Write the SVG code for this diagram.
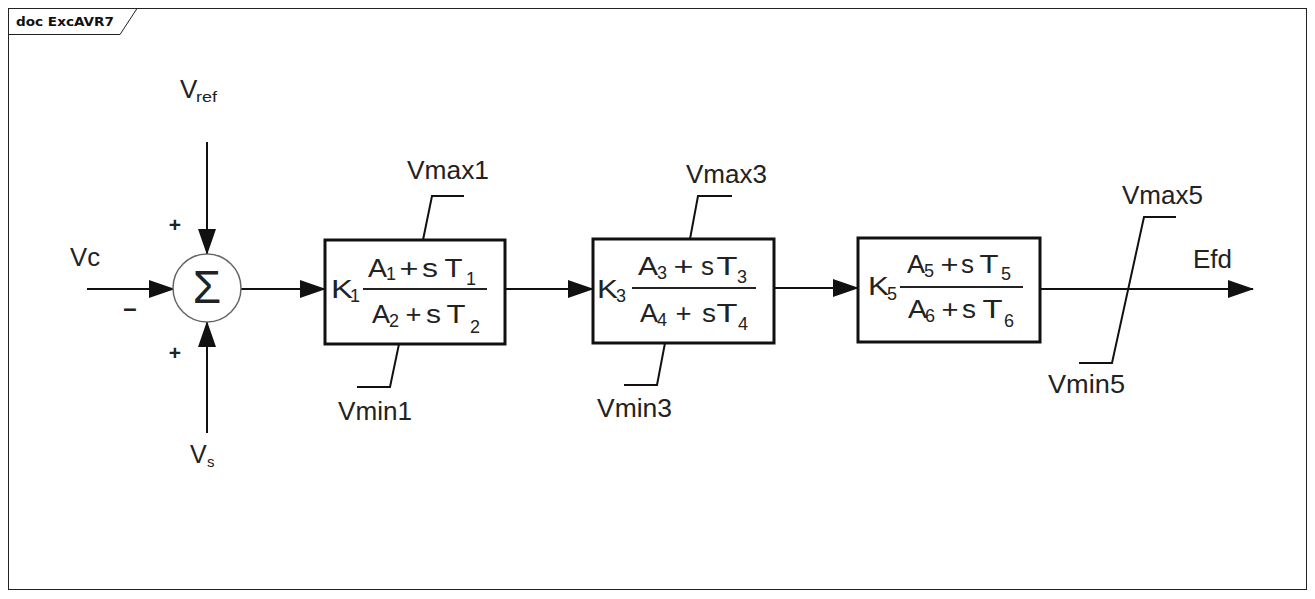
<svg xmlns="http://www.w3.org/2000/svg" width="1315" height="599" viewBox="0 0 1315 599">
<style>
  .t { font-family: "Liberation Sans", Arial, sans-serif; fill: #222; }
  .big { font-size: 26px; }
  .sub { font-size: 18px; }
  .lbl { font-size: 25px; }
  .sgn { font-family: "Liberation Sans", Arial, sans-serif; font-weight: bold; fill: #222; text-anchor: middle; }
  .box { fill: #fff; stroke: #111; stroke-width: 3; }
  .ln { fill: none; stroke: #111; stroke-width: 2; }
  .frac { stroke: #222; stroke-width: 2; }
</style>
<defs>
  <marker id="ah" markerUnits="userSpaceOnUse" markerWidth="27" markerHeight="20" refX="25" refY="10" orient="auto">
    <path d="M0,1 L26,10 L0,19 z" fill="#111"/>
  </marker>
</defs>
<rect width="1315" height="599" fill="#fff"/>
<g id="frame">
  <rect x="8.5" y="8.5" width="1298" height="581" fill="none" stroke="#222" stroke-width="1"/>
  <path d="M8.5,34.5 L120,34.5 L137,8.5" fill="none" stroke="#222" stroke-width="1"/>
  <text x="16" y="26" font-family="DejaVu Sans, sans-serif" font-weight="bold" font-size="12.5" textLength="98" lengthAdjust="spacingAndGlyphs" fill="#111">doc ExcAVR7</text>
</g>
<g id="connectors">
  <line class="ln" x1="87" y1="289" x2="174" y2="289" marker-end="url(#ah)"/>
  <line class="ln" x1="207" y1="142" x2="207" y2="254" marker-end="url(#ah)"/>
  <line class="ln" x1="207" y1="433" x2="207" y2="322" marker-end="url(#ah)"/>
  <line class="ln" x1="241" y1="289" x2="325" y2="289" marker-end="url(#ah)"/>
  <line class="ln" x1="505" y1="289" x2="593" y2="289" marker-end="url(#ah)"/>
  <line class="ln" x1="774" y1="288" x2="858" y2="288" marker-end="url(#ah)"/>
  <line class="ln" x1="1040" y1="289" x2="1253" y2="289" marker-end="url(#ah)"/>
</g>
<g id="inputs">
  <text class="t lbl" x="70" y="266" textLength="30" lengthAdjust="spacingAndGlyphs">Vc</text>
  <text class="t" x="180" y="98" font-size="26">V</text>
  <text class="t" x="196" y="102" font-size="15" textLength="21" lengthAdjust="spacingAndGlyphs">ref</text>
  <text class="t" x="190" y="463" font-size="25">V</text>
  <text class="t" x="207" y="467" font-size="15">s</text>
</g>
<g id="sum">
  <circle cx="207" cy="288" r="34" fill="#fff" stroke="#666" stroke-width="1.5"/>
  <text class="t" x="207" y="303" font-size="46" text-anchor="middle">Σ</text>
  <text class="sgn" x="175" y="232" font-size="21">+</text>
  <text class="sgn" x="175" y="360" font-size="21">+</text>
  <text class="sgn" x="130" y="316" font-size="24">–</text>
</g>
<g id="block1">
  <rect class="box" x="325" y="240" width="180" height="104"/>
  <text class="t big" x="331" y="298" textLength="22" lengthAdjust="spacingAndGlyphs">K</text><text class="t sub" x="350" y="302">1</text>
  <text class="t big" x="368" y="277" textLength="19" lengthAdjust="spacingAndGlyphs">A</text><text class="t sub" x="386" y="280">1</text>
  <text class="t big" x="399.5" y="277" textLength="19" lengthAdjust="spacingAndGlyphs">+</text>
  <text class="t big" x="422" y="277" textLength="16" lengthAdjust="spacingAndGlyphs">s</text>
  <text class="t big" x="444.5" y="277" textLength="18" lengthAdjust="spacingAndGlyphs">T</text><text class="t sub" x="466" y="285">1</text>
  <line class="frac" x1="363" y1="289" x2="487" y2="289"/>
  <text class="t big" x="372" y="323" textLength="18" lengthAdjust="spacingAndGlyphs">A</text><text class="t sub" x="389" y="327">2</text>
  <text class="t big" x="405.5" y="323" textLength="16" lengthAdjust="spacingAndGlyphs">+</text>
  <text class="t big" x="426" y="323" textLength="15" lengthAdjust="spacingAndGlyphs">s</text>
  <text class="t big" x="446.5" y="323" textLength="19" lengthAdjust="spacingAndGlyphs">T</text><text class="t sub" x="470" y="333">2</text>
</g>
<g id="limit1">
  <path class="ln" d="M423,240 L432,196 L464,196"/>
  <path class="ln" d="M399,344 L390,387 L357,387"/>
  <text class="t lbl" x="407" y="179" textLength="82" lengthAdjust="spacingAndGlyphs">Vmax1</text>
  <text class="t lbl" x="338" y="420" textLength="74" lengthAdjust="spacingAndGlyphs">Vmin1</text>
</g>
<g id="block2">
  <rect class="box" x="593" y="239" width="181" height="104"/>
  <text class="t big" x="597" y="298" textLength="21" lengthAdjust="spacingAndGlyphs">K</text><text class="t sub" x="616" y="302">3</text>
  <text class="t big" x="638" y="275" textLength="20" lengthAdjust="spacingAndGlyphs">A</text><text class="t sub" x="657" y="279">3</text>
  <text class="t big" x="673.5" y="275" textLength="20" lengthAdjust="spacingAndGlyphs">+</text>
  <text class="t big" x="701" y="275" textLength="13" lengthAdjust="spacingAndGlyphs">s</text>
  <text class="t big" x="716.5" y="275" textLength="21" lengthAdjust="spacingAndGlyphs">T</text><text class="t sub" x="737" y="283">3</text>
  <line class="frac" x1="632" y1="288" x2="756" y2="288"/>
  <text class="t big" x="640" y="322" textLength="18" lengthAdjust="spacingAndGlyphs">A</text><text class="t sub" x="657" y="326">4</text>
  <text class="t big" x="675.5" y="322" textLength="16" lengthAdjust="spacingAndGlyphs">+</text>
  <text class="t big" x="702" y="322" textLength="14" lengthAdjust="spacingAndGlyphs">s</text>
  <text class="t big" x="716.5" y="322" textLength="21" lengthAdjust="spacingAndGlyphs">T</text><text class="t sub" x="738" y="330">4</text>
</g>
<g id="limit3">
  <path class="ln" d="M690,239 L698,196 L732,196"/>
  <path class="ln" d="M665,343 L657,385 L624,385"/>
  <text class="t lbl" x="686" y="183" textLength="81" lengthAdjust="spacingAndGlyphs">Vmax3</text>
  <text class="t lbl" x="597" y="417" textLength="75" lengthAdjust="spacingAndGlyphs">Vmin3</text>
</g>
<g id="block3">
  <rect class="box" x="858" y="238" width="182" height="104"/>
  <text class="t big" x="868" y="295" textLength="21" lengthAdjust="spacingAndGlyphs">K</text><text class="t sub" x="887" y="300">5</text>
  <text class="t big" x="907" y="273" textLength="18" lengthAdjust="spacingAndGlyphs">A</text><text class="t sub" x="924" y="277">5</text>
  <text class="t big" x="940.5" y="273" textLength="18" lengthAdjust="spacingAndGlyphs">+</text>
  <text class="t big" x="961" y="273" textLength="13" lengthAdjust="spacingAndGlyphs">s</text>
  <text class="t big" x="979.5" y="273" textLength="19" lengthAdjust="spacingAndGlyphs">T</text><text class="t sub" x="1001" y="280">5</text>
  <line class="frac" x1="900" y1="287" x2="1023" y2="287"/>
  <text class="t big" x="908" y="318" textLength="19" lengthAdjust="spacingAndGlyphs">A</text><text class="t sub" x="925" y="322">6</text>
  <text class="t big" x="941.5" y="318" textLength="17" lengthAdjust="spacingAndGlyphs">+</text>
  <text class="t big" x="962" y="318" textLength="14" lengthAdjust="spacingAndGlyphs">s</text>
  <text class="t big" x="982.5" y="318" textLength="20" lengthAdjust="spacingAndGlyphs">T</text><text class="t sub" x="1004" y="327">6</text>
</g>
<g id="limit5">
  <path class="ln" d="M1079,363 L1112,363 L1144,217 L1176,217"/>
  <text class="t lbl" x="1122" y="204" textLength="81" lengthAdjust="spacingAndGlyphs">Vmax5</text>
  <text class="t lbl" x="1048" y="393" textLength="77" lengthAdjust="spacingAndGlyphs">Vmin5</text>
</g>
<g id="output">
  <text class="t lbl" x="1193" y="268" textLength="39" lengthAdjust="spacingAndGlyphs">Efd</text>
</g>
</svg>
